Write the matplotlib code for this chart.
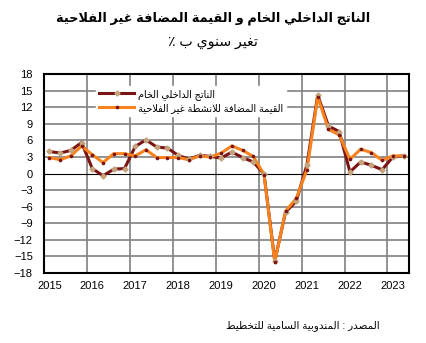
import numpy as np
import matplotlib
matplotlib.use("Agg")
import matplotlib.pyplot as plt
from matplotlib.lines import Line2D

plt.rcParams["font.family"] = ["Liberation Sans", "DejaVu Sans"]

# ----------------------------
# Data (quarterly, y/y %)
# ----------------------------
years = ["2015", "2016", "2017", "2018", "2019", "2020", "2021", "2022", "2023"]

gdp = [4.0, 3.7, 4.2, 5.6,
       0.9, -0.4, 0.8, 0.9,
       4.9, 6.1, 4.8, 4.6,
       3.3, 2.6, 3.3, 3.1,
       2.8, 3.9, 2.9, 2.1,
       -0.1, -15.8, -7.0, -5.0,
       1.6, 14.2, 8.6, 7.6,
       0.3, 2.1, 1.5, 0.7,
       3.0, 3.2]

non_agri = [2.9, 2.5, 3.2, 5.0,
            3.4, 2.0, 3.6, 3.6,
            3.2, 4.3, 2.9, 2.9,
            2.9, 2.5, 3.2, 3.0,
            3.7, 5.0, 4.2, 3.1,
            -0.2, -16.0, -6.8, -4.5,
            0.7, 13.9, 8.0, 7.0,
            2.6, 4.4, 3.8, 2.4,
            3.2, 3.2]

title_txt = "الناتج الداخلي الخام و القيمة المضافة غير الفلاحية"
subtitle_txt = "تغير سنوي ب ٪"
label_gdp = "الناتج الداخلي الخام"
label_nonag = "القيمة المضافة للانشطة غير الفلاحية"
source_txt = "المصدر : المندوبية السامية للتخطيط"

# ----------------------------
# Minimal Arabic shaping (presentation forms + visual order)
# ----------------------------
dual = {"ب": 0xFE8F, "ت": 0xFE95, "ث": 0xFE99, "ج": 0xFE9D, "ح": 0xFEA1,
        "خ": 0xFEA5, "س": 0xFEB1, "ش": 0xFEB5, "ص": 0xFEB9, "ض": 0xFEBD,
        "ط": 0xFEC1, "ظ": 0xFEC5, "ع": 0xFEC9, "غ": 0xFECD, "ف": 0xFED1,
        "ق": 0xFED5, "ك": 0xFED9, "ل": 0xFEDD, "م": 0xFEE1, "ن": 0xFEE5,
        "ه": 0xFEE9, "ي": 0xFEF1, "ئ": 0xFE89}
right = {"ا": 0xFE8D, "أ": 0xFE83, "إ": 0xFE87, "آ": 0xFE81, "د": 0xFEA9,
         "ذ": 0xFEAB, "ر": 0xFEAD, "ز": 0xFEAF, "و": 0xFEED, "ؤ": 0xFE85,
         "ة": 0xFE93, "ى": 0xFEEF}
lamalef = {"ا": 0xFEFB, "أ": 0xFEF7, "إ": 0xFEF9, "آ": 0xFEF5}


def ar(s):
    out = []
    i = 0
    n = len(s)
    while i < n:
        c = s[i]
        conn_prev = i > 0 and s[i - 1] in dual
        if c == "ل" and i + 1 < n and s[i + 1] in lamalef:
            out.append(chr(lamalef[s[i + 1]] + (1 if conn_prev else 0)))
            i += 2
            continue
        nxt = s[i + 1] if i + 1 < n else ""
        if c in dual:
            conn_next = nxt in dual or nxt in right
            if conn_prev and conn_next:
                k = 3
            elif conn_prev:
                k = 1
            elif conn_next:
                k = 2
            else:
                k = 0
            out.append(chr(dual[c] + k))
        elif c in right:
            out.append(chr(right[c] + (1 if conn_prev else 0)))
        else:
            out.append(c)
        i += 1
    return "".join(out)[::-1]


# ----------------------------
# Plot
# ----------------------------
dark_red = "#7B1414"
tan = "#C4A47C"
orange = "#F7821E"

x = np.arange(len(gdp))

fig = plt.figure(figsize=(4.26, 3.43), dpi=100)
ax = fig.add_axes([0.1033, 0.204, 0.8567, 0.580])

ax.plot(x, gdp, color=dark_red, lw=2.2, zorder=3, solid_joinstyle="miter")
ax.plot(x, non_agri, color=orange, lw=2.2, zorder=4, solid_joinstyle="miter")
ax.plot(x, gdp, ls="none", marker="D", ms=2.6, mfc=tan, mec=tan, zorder=5)
ax.plot(x, non_agri, ls="none", marker="o", ms=1.6, mfc=dark_red, mec=dark_red, zorder=6)

ax.set_xlim(-0.5, len(gdp) - 0.5)
ax.set_ylim(-18, 18)
ax.set_yticks(np.arange(-18, 19, 3))

# year boundaries as grid lines, labels on first quarter
for k in range(len(years)):
    ax.axvline(4 * k - 0.5, color="#808080", lw=1.2, zorder=1)
for v in np.arange(-15, 18, 3):
    if v != 0:
        ax.axhline(v, color="#808080", lw=1.2, zorder=1)
ax.axhline(0, color="black", lw=0.8, zorder=2)

ax.set_xticks(4 * np.arange(len(years)))
ax.set_xticklabels(years)
ax.tick_params(axis="both", length=0, labelsize=8, colors="black")
ax.tick_params(axis="x", pad=6)
ax.tick_params(axis="y", pad=8)
for sp in ax.spines.values():
    sp.set_color("black")
    sp.set_linewidth(1.5)

handles = [
    Line2D([], [], color=dark_red, lw=2.2, marker="D", ms=2.6, mfc=tan, mec=tan),
    Line2D([], [], color=orange, lw=2.2, marker="o", ms=1.6, mfc=dark_red, mec=dark_red),
]
leg = ax.legend(handles, [ar(label_gdp), ar(label_nonag)],
                loc="upper left", bbox_to_anchor=(0.13, 0.965),
                fontsize=7, frameon=True, fancybox=False, framealpha=1,
                edgecolor="white", handlelength=3.6, handletextpad=0.4,
                labelspacing=0.3, borderpad=0.3, markerfirst=True)
leg.set_zorder(7)

fig.text(0.5, 0.948, ar(title_txt), ha="center", va="center",
         fontsize=9.3, fontweight="bold")
fig.text(0.5, 0.878, ar(subtitle_txt), ha="center", va="center", fontsize=10.2)
fig.text(0.71, 0.052, ar(source_txt), ha="center", va="center", fontsize=7.5)

fig.savefig("out.png", dpi=100)
